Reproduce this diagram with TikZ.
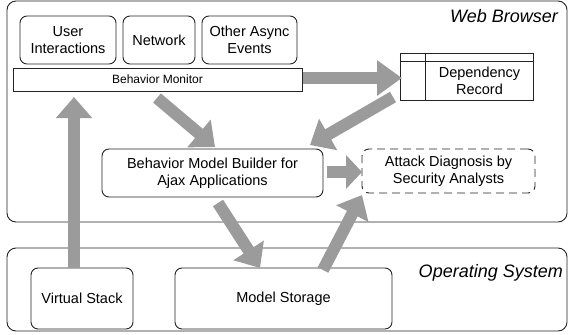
\documentclass[tikz,border=0pt]{standalone}
\usepackage{fontspec}
\setmainfont{Liberation Sans}
\usetikzlibrary{arrows.meta}
\definecolor{arrowgray}{RGB}{155,155,155}
\definecolor{linegray}{RGB}{35,35,35}
\begin{document}
\begin{tikzpicture}[x=1pt,y=-1pt,
  box/.style={draw=linegray, line width=0.9pt, rounded corners=7pt, inner sep=0pt, align=center, font=\fontsize{14.5}{16.5}\selectfont},
  plainbox/.style={draw=linegray, line width=0.9pt, inner sep=0pt, align=center},
  frame/.style={draw=linegray, line width=0.9pt, rounded corners=9pt, inner sep=0pt},
  bigarrow/.style={draw=arrowgray, line width=12pt, -{Triangle[length=21pt,width=35pt]}},
  title/.style={font=\fontsize{18}{20}\selectfont\itshape, anchor=base east, inner sep=0pt}]
\useasboundingbox (0,0) rectangle (569,334);

% frames
\node[frame, minimum width=560pt, minimum height=221pt] (web) at (287,111.5) {};
\node[frame, minimum width=560pt, minimum height=83pt] (os) at (287,289.5) {};
\node[title] (webt) at (558,23) {Web Browser};
\node[title] (ost) at (563,277) {Operating System};

% browser nodes
\node[box, minimum width=96pt, minimum height=48pt] (ui) at (68,40) {User\\Interactions};
\node[box, minimum width=72pt, minimum height=48pt] (net) at (159,40) {Network};
\node[box, minimum width=95pt, minimum height=48pt] (other) at (249.5,40) {Other Async\\Events};
\node[plainbox, minimum width=289pt, minimum height=23pt, font=\fontsize{12}{14}\selectfont] (bm) at (157.5,79.5) {Behavior Monitor};

\node[plainbox, minimum width=133pt, minimum height=47pt] (dep) at (466.5,76.5) {};
\draw[linegray, line width=0.9pt] ([xshift=26pt]dep.north west) -- ([xshift=26pt]dep.south west);
\draw[linegray, line width=0.9pt] ([yshift=-9pt]dep.north west) -- ([yshift=-9pt]dep.north east);
\node[align=center, inner sep=0pt, font=\fontsize{14.5}{16.5}\selectfont] (deptext) at (479.5,81) {Dependency\\Record};

\node[box, minimum width=221pt, minimum height=48pt] (builder) at (212.5,173) {Behavior Model Builder for\\Ajax Applications};
\node[box, dashed, dash pattern=on 8pt off 5pt, minimum width=173pt, minimum height=44pt] (attack) at (448.5,171) {Attack Diagnosis by\\Security Analysts};

% OS nodes
\node[box, minimum width=102pt, minimum height=61pt] (vs) at (82,298.5) {Virtual Stack};
\node[box, minimum width=217pt, minimum height=61pt] (ms) at (283.5,298.5) {Model Storage};

% arrow end points
\coordinate (vsOut) at (74,268);
\coordinate (bmIn) at (74,97);
\coordinate (bmOut) at (303,78);
\coordinate (depIn) at (402,78);
\coordinate (bmOut2) at (157,98);
\coordinate (builderIn) at (215,147);
\coordinate (depOut) at (393,97);
\coordinate (builderIn2) at (310,145);
\coordinate (builderOut) at (327,172);
\coordinate (attackIn) at (362,172);
\coordinate (builderOut2) at (218,203);
\coordinate (msIn) at (260,268);
\coordinate (msOut) at (323,270);
\coordinate (attackIn2) at (362,195);

\draw[bigarrow] (vsOut) -- (bmIn);
\draw[bigarrow, -{Triangle[length=25pt,width=34pt]}] (bmOut) -- (depIn);
\draw[bigarrow] (bmOut2) -- (builderIn);
\draw[bigarrow] (depOut) -- (builderIn2);
\draw[bigarrow, -{Triangle[length=16pt,width=33pt]}] (builderOut) -- (attackIn);
\draw[bigarrow] (builderOut2) -- (msIn);
\draw[bigarrow] (msOut) -- (attackIn2);
\end{tikzpicture}
\end{document}
